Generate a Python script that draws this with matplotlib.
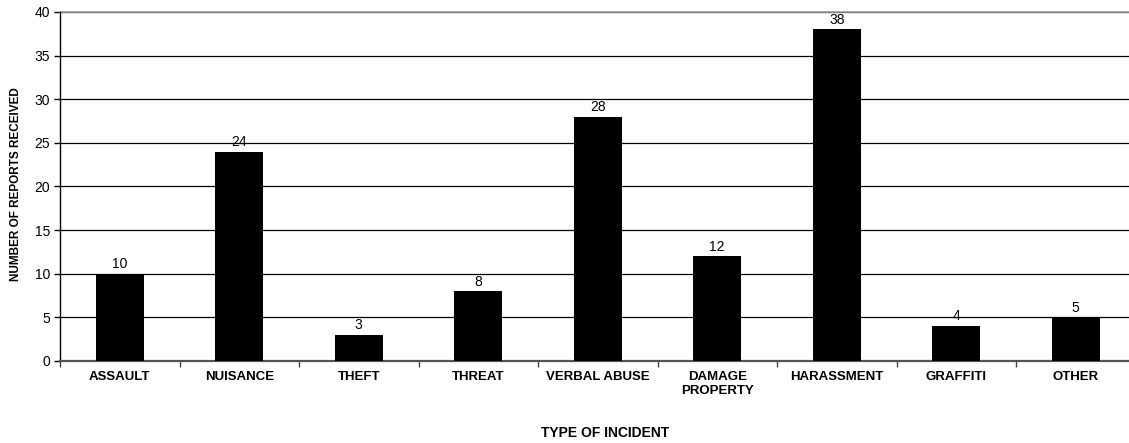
import matplotlib
matplotlib.use("Agg")
import matplotlib.pyplot as plt
from matplotlib.ticker import FixedLocator

plt.rcParams['font.family'] = ['Liberation Sans', 'DejaVu Sans']

categories = ["ASSAULT", "NUISANCE", "THEFT", "THREAT", "VERBAL ABUSE",
              "DAMAGE\nPROPERTY", "HARASSMENT", "GRAFFITI", "OTHER"]
reports = [10, 24, 3, 8, 28, 12, 38, 4, 5]
y_ticks = [0, 5, 10, 15, 20, 25, 30, 35, 40]

fig = plt.figure(figsize=(11.29, 4.43), dpi=100)
ax = fig.add_axes([60 / 1129, 82 / 443, 1075.5 / 1129, 349 / 443])

x = list(range(len(categories)))
ax.bar(x, reports, width=0.4, color="black", zorder=3)

for xi, v in zip(x, reports):
    ax.text(xi, v + 0.3, str(v), ha="center", va="bottom", fontsize=10)

ax.set_xlim(-0.5, len(categories) - 0.5)
ax.set_ylim(0, 40)
ax.set_yticks(y_ticks)
ax.yaxis.grid(True, color="black", linewidth=0.9, zorder=0)
ax.set_axisbelow(True)

ax.set_xticks(x)
ax.set_xticklabels(categories, fontsize=9.5, fontweight="bold", linespacing=1.2,
                   va="top")
ax.xaxis.set_minor_locator(FixedLocator([i - 0.5 for i in range(len(categories) + 1)]))
ax.tick_params(axis="x", which="major", length=0, pad=7)
ax.tick_params(axis="x", which="minor", length=4, width=1, color="#444444", direction="out")
ax.tick_params(axis="y", length=4, width=1, labelsize=10, direction="out", pad=3)

for side in ("top", "right"):
    ax.spines[side].set_visible(False)
ax.spines["left"].set_color("black")
ax.spines["left"].set_linewidth(1.0)
ax.spines["bottom"].set_color("#555555")
ax.spines["bottom"].set_linewidth(1.6)

# top gridline drawn lighter
ax.axhline(40, color="#999999", linewidth=1.2, zorder=1, clip_on=False)

fig.text(16 / 1129, 1 - 184 / 443, "NUMBER OF REPORTS RECEIVED", rotation=90,
         ha="center", va="center", fontsize=8.5, fontweight="bold")
fig.text(605 / 1129, 1 - 433 / 443, "TYPE OF INCIDENT", ha="center", va="center",
         fontsize=10, fontweight="bold")

fig.savefig("out.png", dpi=100)
